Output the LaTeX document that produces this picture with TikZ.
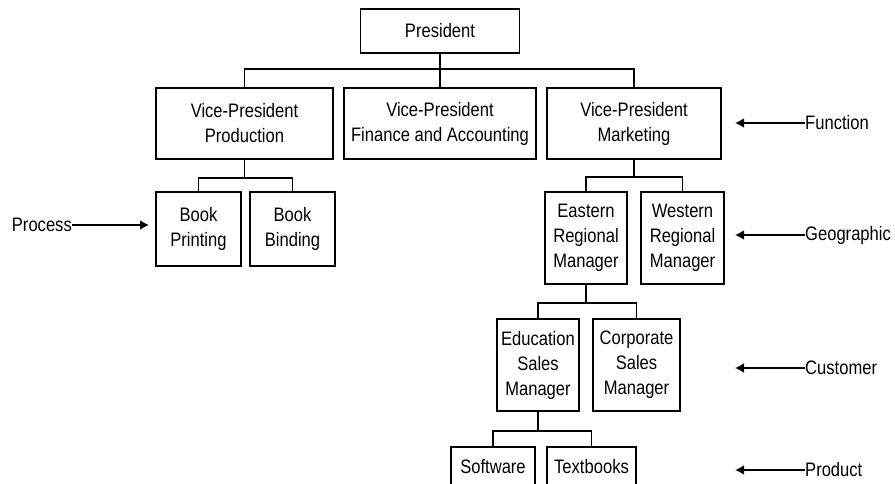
\documentclass[tikz,border=0pt]{standalone}
\usepackage{fontspec}
\setmainfont{Liberation Sans}[FakeStretch=0.85]
\usetikzlibrary{arrows.meta}

\begin{document}
\begin{tikzpicture}[x=1pt, y=-1pt,
  unit/.style={draw, line width=1.8pt, rectangle, inner sep=0pt, align=center,
    font=\fontsize{19.5}{25}\selectfont},
  tag/.style={font=\fontsize{19.5}{25}\selectfont, inner sep=0pt},
  link/.style={line width=1.8pt},
  pointer/.style={line width=1.8pt, -{Latex[length=9pt, width=10pt]}}]
\useasboundingbox (0,0) rectangle (895,484);
\clip (0,0) rectangle (895,484);

% top level
\node[unit, minimum width=159pt, minimum height=44pt] (pres) at (440,31) {President};

% vice-presidents
\node[unit, minimum width=177pt, minimum height=71pt] (vpp) at (244.5,123.5) {Vice-President\\Production};
\node[unit, minimum width=192pt, minimum height=71pt] (vpf) at (440,123.5) {Vice-President\\Finance and Accounting};
\node[unit, minimum width=174pt, minimum height=71pt] (vpm) at (634,123.5) {Vice-President\\Marketing};

% production processes
\node[unit, minimum width=85pt, minimum height=74pt] (bp) at (198.5,229) {Book\\Printing};
\node[unit, minimum width=85pt, minimum height=74pt] (bb) at (292.5,229) {Book\\Binding};

% regions
\node[unit, minimum width=82pt, minimum height=92pt] (east) at (586,238) {Eastern\\Regional\\Manager};
\node[unit, minimum width=83pt, minimum height=92pt] (west) at (682.5,238) {Western\\Regional\\Manager};

% customers
\node[unit, minimum width=82pt, minimum height=92pt] (edu) at (538,365) {Education\\Sales\\Manager};
\node[unit, minimum width=87pt, minimum height=92pt] (corp) at (636.5,365) {Corporate\\Sales\\Manager};

% products (boxes run past the lower edge)
\node[unit, minimum width=84pt, minimum height=50pt, anchor=north] (soft) at (493,446) {};
\node[tag] at (493,467) {Software};
\node[unit, minimum width=89pt, minimum height=50pt, anchor=north] (text) at (591.5,446) {};
\node[tag] at (591.5,467) {Textbooks};

% bus heights
\coordinate (b1) at (0,69);
\coordinate (b2) at (0,178);
\coordinate (b3) at (0,177);
\coordinate (b4) at (0,303);
\coordinate (b5) at (0,431);

% tree connectors
\draw[link] (pres.south) -- (vpf.north);
\draw[link] (vpp.north) |- (b1 -| vpm.north) -- (vpm.north);
\draw[link] (vpp.south) -- (vpp.south |- b2);
\draw[link] (bp.north) |- (b2 -| bb.north) -- (bb.north);
\draw[link] (vpm.south) -- (vpm.south |- b3);
\draw[link] (east.north) |- (b3 -| west.north) -- (west.north);
\draw[link] (east.south) -- (east.south |- b4);
\draw[link] (edu.north) |- (b4 -| corp.north) -- (corp.north);
\draw[link] (edu.south) -- (edu.south |- b5);
\draw[link] (soft.north) |- (b5 -| text.north) -- (text.north);

% departmentation labels
\node[tag, anchor=east] (lproc) at (72,225) {Process};
\coordinate (tproc) at (149,225);
\draw[pointer] (lproc.east) -- (tproc);

\node[tag, anchor=west] (lfun) at (805,123) {Function};
\coordinate (tfun) at (735,123);
\draw[pointer] (lfun.west) -- (tfun);

\node[tag, anchor=west] (lgeo) at (805,235) {Geographic};
\coordinate (tgeo) at (735,235);
\draw[pointer] (lgeo.west) -- (tgeo);

\node[tag, anchor=west] (lcus) at (805,368) {Customer};
\coordinate (tcus) at (735,368);
\draw[pointer] (lcus.west) -- (tcus);

\node[tag, anchor=west] (lprod) at (805,470) {Product};
\coordinate (tprod) at (735,470);
\draw[pointer] (lprod.west) -- (tprod);
\end{tikzpicture}
\end{document}
